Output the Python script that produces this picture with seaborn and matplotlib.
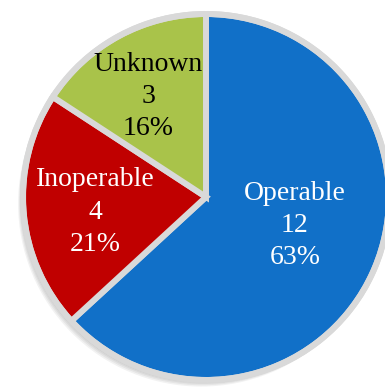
import matplotlib
matplotlib.use("Agg")
import matplotlib.pyplot as plt
import seaborn as sns
import numpy as np

categories = ["Operable", "Inoperable", "Unknown"]
counts = [12, 4, 3]
percents = ["63%", "21%", "16%"]
colors = ["#1170C8", "#C00000", "#A9C34A"]
label_colors = ["white", "white", "black"]

sns.set_theme(style="white")
plt.rcParams['font.family'] = ['Liberation Serif', 'DejaVu Serif']

fig = plt.figure(figsize=(3.85, 3.88), dpi=100)
ax = fig.add_axes([0, 0, 1, 1])
ax.set_facecolor("white")

# soft shadow
for i, a in enumerate([0.05, 0.05, 0.05, 0.05]):
    ax.add_patch(plt.Circle((-0.012 - 0.005 * i, -0.015 - 0.007 * i), 1.0, color="black",
                            alpha=a, lw=0, zorder=0))

wedges, _ = ax.pie(counts, colors=colors, startangle=90, counterclock=False,
                   radius=1.0,
                   wedgeprops=dict(edgecolor="#D9D9D9", linewidth=4.3, zorder=2))
ax.add_patch(plt.Circle((0, 0), 1.0, fill=False, ec="#D9D9D9", lw=4.3, zorder=3))

label_r = [0.51, 0.61, 0.635]
label_nudge = [6.0, 3.0, 1.5]
for w, cat, n, p, c, r, d in zip(wedges, categories, counts, percents, label_colors,
                                 label_r, label_nudge):
    ang = np.deg2rad((w.theta1 + w.theta2) / 2 + d)
    ax.text(r * np.cos(ang), r * np.sin(ang), f"{cat}\n{n}\n{p}", ha="center", va="center",
            color=c, fontsize=20, linespacing=1.38, zorder=4)

s = 183.0
ax.set_xlim(-206 / s, (385 - 206) / s)
ax.set_ylim(-(388 - 197) / s, 197 / s)
ax.set_aspect("equal")
ax.axis("off")
fig.savefig("out.png", dpi=100, facecolor="white")
